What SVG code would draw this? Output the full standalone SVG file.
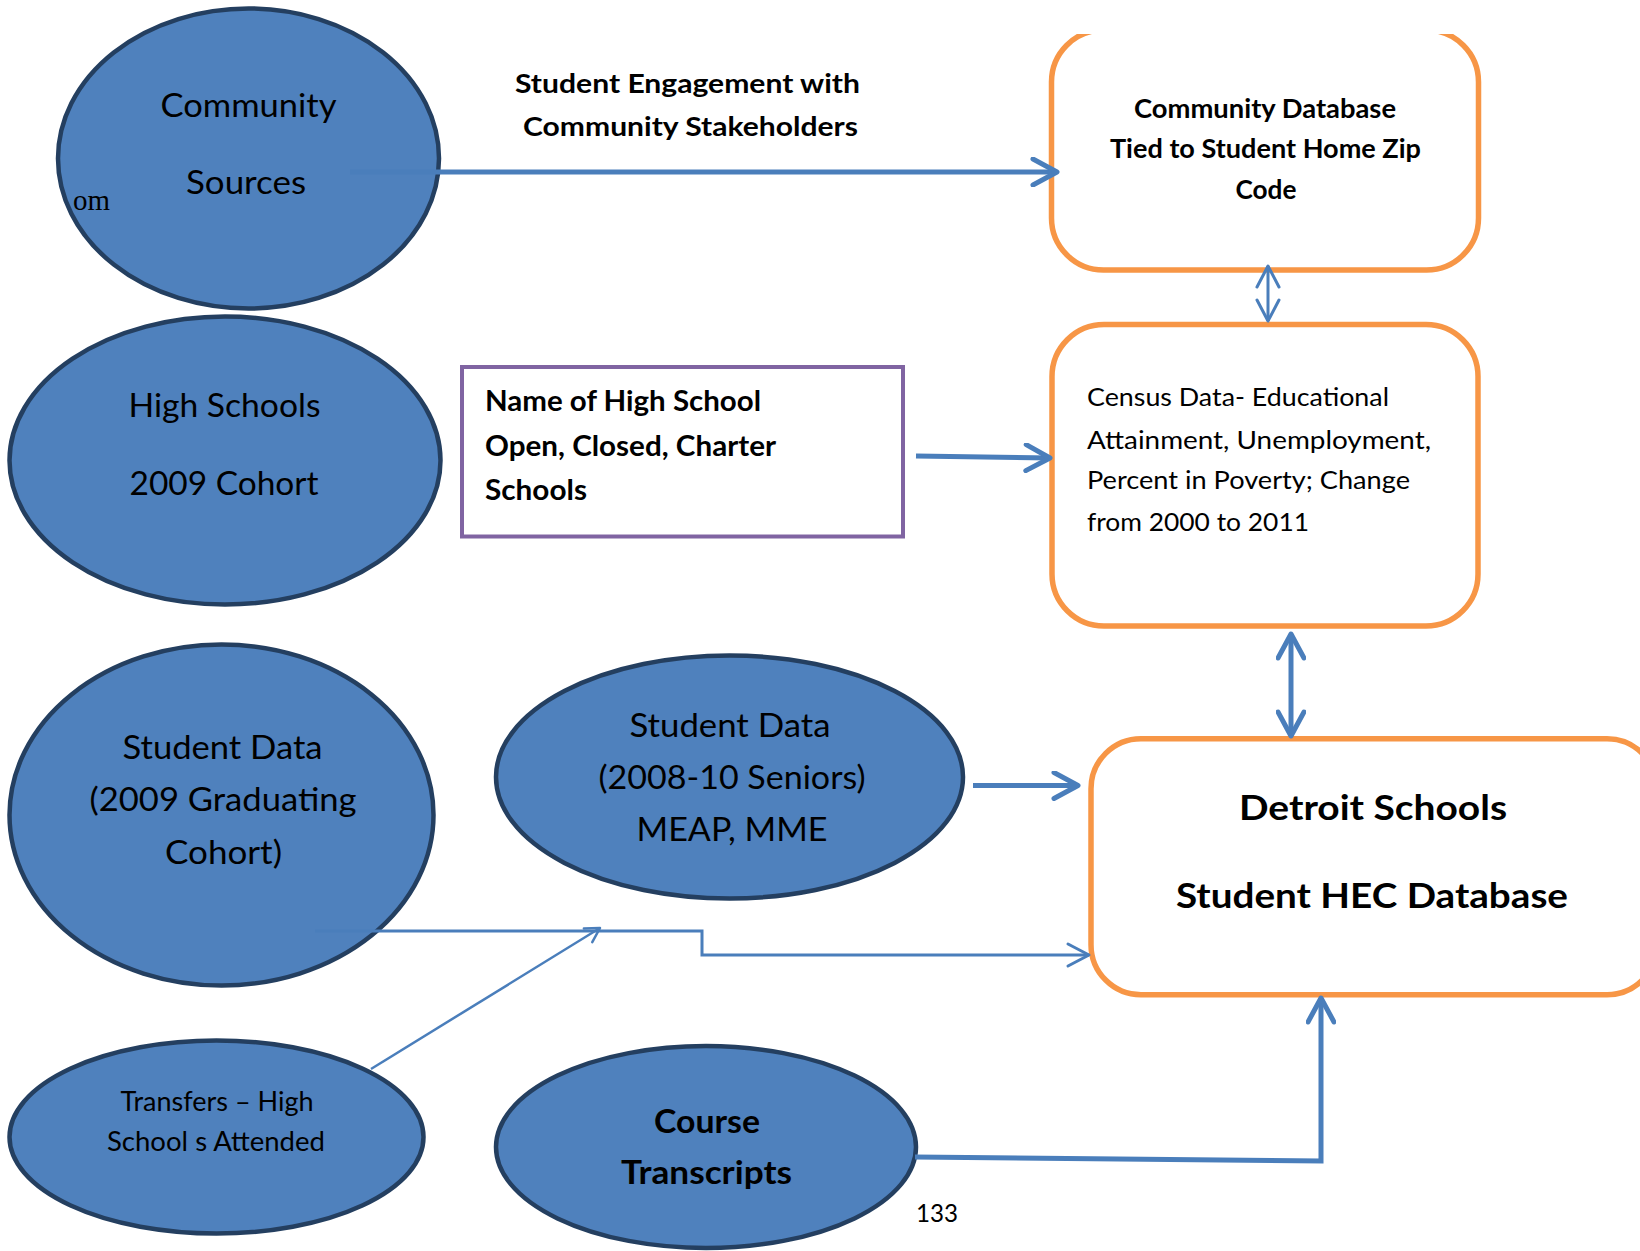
<svg xmlns="http://www.w3.org/2000/svg" width="1640" height="1251" viewBox="0 0 1640 1251">
  <style>
    .oval { fill: #4F81BD; stroke: #243F60; stroke-width: 4.5; }
    .rbox { fill: #FFFFFF; stroke: #F79646; stroke-width: 5.5; }
    .pbox { fill: #FFFFFF; stroke: #8064A2; stroke-width: 4; }
    text { font-family: Lato, "Open Sans", "Liberation Sans", sans-serif; fill: #000000; }
    .c { text-anchor: middle; }
    .b { font-weight: bold; }
    .link { fill: none; stroke: #4A7EBB; stroke-linejoin: miter; }
    .thick { stroke-width: 5; }
    .thin { stroke-width: 3; }
    .fine { stroke-width: 2.5; }
  </style>
  <defs>
    <marker id="arrow-thick" viewBox="0 0 30 30" refX="27" refY="15" markerWidth="30" markerHeight="30" markerUnits="userSpaceOnUse" orient="auto-start-reverse">
      <path d="M3,2 L27,15 L3,28" fill="none" stroke="#4A7EBB" stroke-width="5" stroke-linecap="round" stroke-linejoin="round"/>
    </marker>
    <marker id="arrow-thin" viewBox="0 0 28 28" refX="24" refY="14" markerWidth="28" markerHeight="28" markerUnits="userSpaceOnUse" orient="auto-start-reverse">
      <path d="M3,3 L24,14 L3,25" fill="none" stroke="#4A7EBB" stroke-width="3" stroke-linecap="round" stroke-linejoin="round"/>
    </marker>
    <marker id="arrow-small" viewBox="0 0 20 20" refX="17" refY="10" markerWidth="20" markerHeight="20" markerUnits="userSpaceOnUse" orient="auto">
      <path d="M3,2 L17,10 L3,18" fill="none" stroke="#4A7EBB" stroke-width="2.5" stroke-linecap="round" stroke-linejoin="round"/>
    </marker>
    <clipPath id="page-top">
      <rect x="0" y="34" width="1640" height="1217"/>
    </clipPath>
  </defs>

  <rect x="0" y="0" width="1640" height="1251" fill="#FFFFFF"/>

  <!-- source ovals -->
  <g id="community-sources">
    <ellipse class="oval" cx="248.5" cy="158.5" rx="190.5" ry="150"/>
    <text class="c" x="248.5" y="116.5" font-size="33" textLength="176" lengthAdjust="spacingAndGlyphs">Community</text>
    <text class="c" x="246" y="193.7" font-size="33" textLength="120" lengthAdjust="spacingAndGlyphs">Sources</text>
    <text x="73" y="209.5" font-family="'Liberation Serif', serif" font-size="30" textLength="37" lengthAdjust="spacingAndGlyphs" style="font-family:'Liberation Serif', serif">om</text>
  </g>

  <g id="high-schools">
    <ellipse class="oval" cx="225" cy="460.5" rx="215.5" ry="144"/>
    <text class="c" x="224.5" y="417" font-size="33" textLength="192" lengthAdjust="spacingAndGlyphs">High Schools</text>
    <text class="c" x="224" y="495" font-size="33" textLength="189" lengthAdjust="spacingAndGlyphs">2009 Cohort</text>
  </g>

  <g id="student-data-2009">
    <ellipse class="oval" cx="221.5" cy="815" rx="212" ry="170.5"/>
    <text class="c" x="222.5" y="759" font-size="32" textLength="200" lengthAdjust="spacingAndGlyphs">Student Data</text>
    <text class="c" x="223" y="811" font-size="32" textLength="267" lengthAdjust="spacingAndGlyphs">(2009 Graduating</text>
    <text class="c" x="223.5" y="863.5" font-size="32" textLength="117" lengthAdjust="spacingAndGlyphs">Cohort)</text>
  </g>

  <g id="student-data-seniors">
    <ellipse class="oval" cx="729.5" cy="777" rx="233.5" ry="121.5"/>
    <text class="c" x="730" y="737" font-size="32" textLength="201" lengthAdjust="spacingAndGlyphs">Student Data</text>
    <text class="c" x="732" y="789" font-size="32" textLength="267" lengthAdjust="spacingAndGlyphs">(2008-10 Seniors)</text>
    <text class="c" x="732" y="840.5" font-size="32" textLength="191" lengthAdjust="spacingAndGlyphs">MEAP, MME</text>
  </g>

  <g id="transfers">
    <ellipse class="oval" cx="216.5" cy="1137" rx="207" ry="96.5"/>
    <text class="c" x="217" y="1111" font-size="27" textLength="193" lengthAdjust="spacingAndGlyphs">Transfers – High</text>
    <text class="c" x="216" y="1151" font-size="27" textLength="218" lengthAdjust="spacingAndGlyphs">School s Attended</text>
  </g>

  <g id="course-transcripts">
    <ellipse class="oval" cx="706" cy="1147" rx="210" ry="101"/>
    <text class="c b" x="707" y="1133" font-size="32" textLength="106" lengthAdjust="spacingAndGlyphs">Course</text>
    <text class="c b" x="706.5" y="1183.5" font-size="32" textLength="171" lengthAdjust="spacingAndGlyphs">Transcripts</text>
  </g>

  <!-- high school list box -->
  <g id="high-school-names">
    <rect class="pbox" x="462" y="367" width="441" height="169.5"/>
    <text class="b" x="485" y="411" font-size="28" textLength="276" lengthAdjust="spacingAndGlyphs">Name of High School</text>
    <text class="b" x="485" y="456" font-size="28" textLength="291" lengthAdjust="spacingAndGlyphs">Open, Closed, Charter</text>
    <text class="b" x="485" y="500" font-size="28" textLength="102" lengthAdjust="spacingAndGlyphs">Schools</text>
  </g>

  <!-- databases -->
  <g id="community-database">
    <rect class="rbox" x="1051.5" y="30" width="427" height="240" rx="52" ry="52" clip-path="url(#page-top)"/>
    <text class="c b" x="1265" y="117.5" font-size="26" textLength="262" lengthAdjust="spacingAndGlyphs">Community Database</text>
    <text class="c b" x="1265.5" y="157.5" font-size="26" textLength="311" lengthAdjust="spacingAndGlyphs">Tied to Student Home Zip</text>
    <text class="c b" x="1266" y="199" font-size="26" textLength="61" lengthAdjust="spacingAndGlyphs">Code</text>
  </g>

  <g id="census-data">
    <rect class="rbox" x="1052" y="324.5" width="426" height="301.5" rx="52" ry="52"/>
    <text x="1087" y="406" font-size="25.5" textLength="302" lengthAdjust="spacingAndGlyphs">Census Data- Educational</text>
    <text x="1087" y="449" font-size="25.5" textLength="344" lengthAdjust="spacingAndGlyphs">Attainment, Unemployment,</text>
    <text x="1087" y="489" font-size="25.5" textLength="323" lengthAdjust="spacingAndGlyphs">Percent in Poverty; Change</text>
    <text x="1087" y="530.6" font-size="25.5" textLength="222" lengthAdjust="spacingAndGlyphs">from 2000 to 2011</text>
  </g>

  <g id="detroit-database">
    <rect class="rbox" x="1091" y="738.7" width="566" height="256" rx="50" ry="50"/>
    <text class="c b" x="1373" y="820" font-size="35" textLength="268" lengthAdjust="spacingAndGlyphs">Detroit Schools</text>
    <text class="c b" x="1372" y="908" font-size="35" textLength="392" lengthAdjust="spacingAndGlyphs">Student HEC Database</text>
  </g>

  <!-- link caption -->
  <g id="engagement-label">
    <text class="c b" x="687.5" y="92.5" font-size="26" textLength="345" lengthAdjust="spacingAndGlyphs">Student Engagement with</text>
    <text class="c b" x="690.5" y="136" font-size="26" textLength="335" lengthAdjust="spacingAndGlyphs">Community Stakeholders</text>
  </g>

  <g id="page-number">
    <text x="916" y="1221.6" font-size="24.5" textLength="42" lengthAdjust="spacingAndGlyphs">133</text>
  </g>

  <!-- connectors -->
  <g id="connectors">
    <path class="link thick" d="M350,172 L1057,172" marker-end="url(#arrow-thick)"/>
    <path class="link thin" d="M1268,266 L1268,321" marker-start="url(#arrow-thin)" marker-end="url(#arrow-thin)"/>
    <path class="link thick" d="M916,456 L1050,458" marker-end="url(#arrow-thick)"/>
    <path class="link thick" d="M1291,634 L1291,736" marker-start="url(#arrow-thick)" marker-end="url(#arrow-thick)"/>
    <path class="link thick" d="M973,785.5 L1078,785.5" marker-end="url(#arrow-thick)"/>
    <path class="link thin" d="M315,931 H702 V955 H1089" marker-end="url(#arrow-thin)"/>
    <path class="link fine" d="M371,1069 L600,928" marker-end="url(#arrow-small)"/>
    <path class="link thick" d="M915,1157 L1321,1161 L1321,998" marker-end="url(#arrow-thick)"/>
  </g>
</svg>
